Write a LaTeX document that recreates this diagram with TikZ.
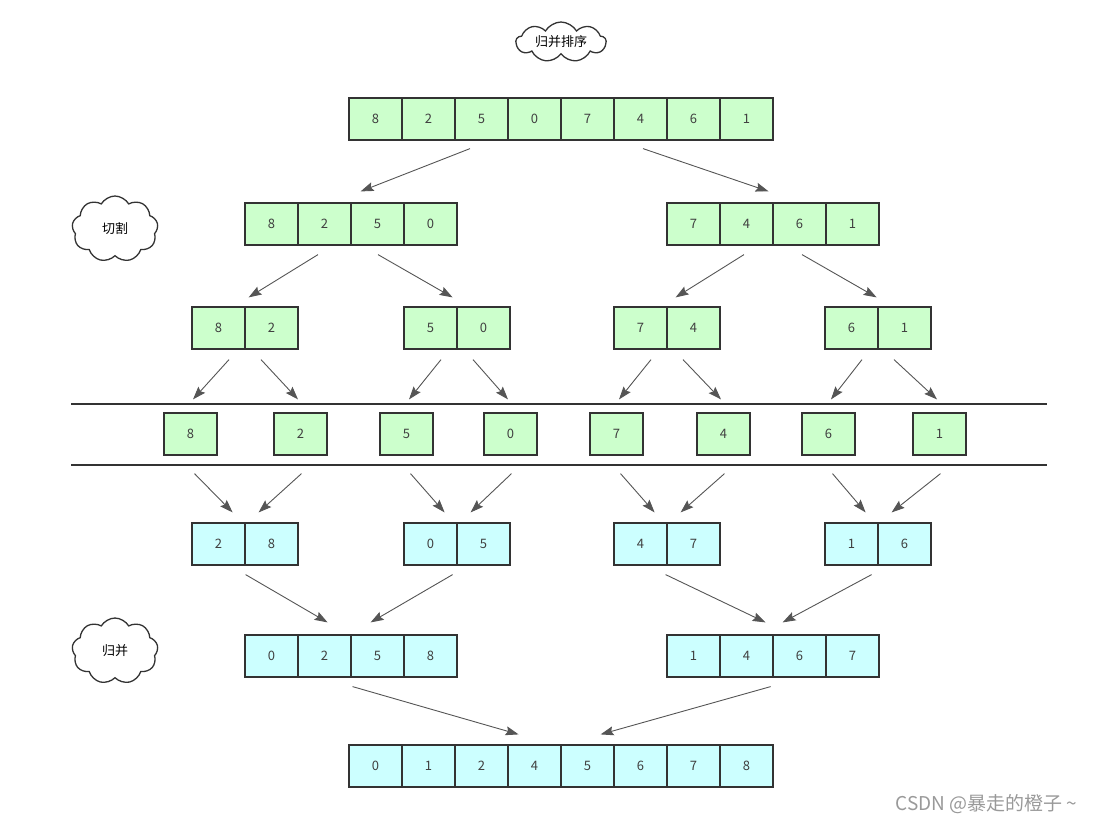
\documentclass[tikz,border=0pt]{standalone}
\usepackage{fontspec}
\setmainfont{Noto Sans CJK SC}
\usetikzlibrary{shapes.symbols,arrows.meta,calc}

\definecolor{cutgreen}{HTML}{CCFFCC}
\definecolor{mergecyan}{HTML}{CCFFFF}
\definecolor{edgegray}{HTML}{333333}
\definecolor{arrowgray}{HTML}{555555}

\begin{document}
\begin{tikzpicture}[x=1pt, y=-1pt,
		cell/.style={draw=edgegray, line width=1.2pt, minimum width=53pt, minimum height=42pt,
			inner sep=0pt, text=black!75, font=\fontsize{13}{15}\selectfont},
		cutcell/.style={cell, fill=cutgreen},
		mergecell/.style={cell, fill=mergecyan},
		arr/.style={draw=arrowgray, line width=0.9pt, -{Stealth[length=13pt, width=9pt, inset=2pt]}},
		note/.style={cloud, cloud puffs=9, cloud puff arc=120, cloud ignores aspect,
			draw=black!80, line width=1.3pt, fill=white, inner sep=0pt,
			font=\fontsize{13}{15}\selectfont}]
	
	\useasboundingbox (0,0) rectangle (1095,823);
	
	% Clouds
	\node[note, minimum width=90pt, minimum height=40pt] (title) at (561,42) {归并排序};
	\node[note, minimum width=86pt, minimum height=66pt] (cut) at (115,229) {切割};
	\node[note, minimum width=86pt, minimum height=66pt] (merge) at (115,651) {归并};
	
	% Whole array
	\foreach \v [count=\i] in {8,2,5,0,7,4,6,1}
		\node[cutcell] (t\i) at (322.5+53*\i,119) {\v};
	
	% Halves
	\foreach \v [count=\i] in {8,2,5,0}
		\node[cutcell] (a\i) at (218.5+53*\i,224) {\v};
	\foreach \v [count=\i] in {7,4,6,1}
		\node[cutcell] (b\i) at (640.5+53*\i,224) {\v};
	
	% Quarters
	\foreach \n/\x/\vals in {c/165.5/{8,2}, d/377.5/{5,0}, e/587.5/{7,4}, f/798.5/{6,1}}
		\foreach \v [count=\i] in \vals
			\node[cutcell] (\n\i) at (\x+53*\i,328) {\v};
	
	% Separator lines
	\draw[edgegray, line width=1.3pt] (71,404) -- (1047,404);
	\draw[edgegray, line width=1.3pt] (71,465) -- (1047,465);
	
	% Single elements
	\foreach \v/\x [count=\i] in {8/190.5, 2/300.5, 5/406.5, 0/510.5, 7/616.5, 4/723.5, 6/828.5, 1/939.5}
		\node[cutcell] (s\i) at (\x,434) {\v};
	
	% Merged pairs
	\foreach \n/\x/\vals in {g/165.5/{2,8}, h/377.5/{0,5}, i/587.5/{4,7}, j/798.5/{1,6}}
		\foreach \v [count=\i] in \vals
			\node[mergecell] (\n\i) at (\x+53*\i,544) {\v};
	
	% Merged halves
	\foreach \v [count=\i] in {0,2,5,8}
		\node[mergecell] (k\i) at (218.5+53*\i,656) {\v};
	\foreach \v [count=\i] in {1,4,6,7}
		\node[mergecell] (m\i) at (640.5+53*\i,656) {\v};
	
	% Sorted array
	\foreach \v [count=\i] in {0,1,2,4,5,6,7,8}
		\node[mergecell] (n\i) at (322.5+53*\i,766) {\v};
	
	% Cutting arrows
	\draw[arr] ($(t3.south)+(-11.5,8)$) -- ($(a2.north east)+(9,-11)$);
	\draw[arr] ($(t6.south)+(2.5,8)$) -- ($(b2.north east)+(-5,-11)$);
	
	\draw[arr] ($(a2.south)+(-6.5,9)$) -- ($(c1.north east)+(3,-9)$);
	\draw[arr] ($(a3.south)+(0.5,9)$) -- ($(d1.north east)+(-5,-9)$);
	\draw[arr] ($(b2.south)+(-2.5,9)$) -- ($(e1.north east)+(8,-9)$);
	\draw[arr] ($(b3.south)+(2.5,9)$) -- ($(f1.north east)+(-2,-9)$);
	
	\foreach \p/\l/\r in {c/1/2, d/3/4, e/5/6, f/7/8} {
		\draw[arr] ($(\p1.south)+(10.5,10)$) -- ($(s\l.north)+(2.5,-13)$);
		\draw[arr] ($(\p2.south)+(-10.5,10)$) -- ($(s\r.north)+(-2.5,-13)$);
	}
	
	% Merging arrows
	\foreach \p/\l/\r in {g/1/2, h/3/4, i/5/6, j/7/8} {
		\draw[arr] ($(s\l.south)+(4,18)$) -- ($(\p1.north east)+(-13,-10)$);
		\draw[arr] ($(s\r.south)+(1,18)$) -- ($(\p1.north east)+(13,-10)$);
	}
	
	\draw[arr] ($(g1.south east)+(0,9)$) -- ($(k2.north east)+(-24,-12)$);
	\draw[arr] ($(h1.south east)+(-5,9)$) -- ($(k2.north east)+(19,-12)$);
	\draw[arr] ($(i1.south east)+(-2,9)$) -- ($(m2.north east)+(-8,-12)$);
	\draw[arr] ($(j1.south east)+(-7,9)$) -- ($(m2.north east)+(9,-12)$);
	
	\draw[arr] ($(k2.south east)+(1,9)$) -- ($(n4.north east)+(-43,-10)$);
	\draw[arr] ($(m2.south east)+(-3,9)$) -- ($(n4.north east)+(39,-10)$);
	
	% Watermark
	\node[anchor=east, text=black!40, font=\fontsize{19}{21}\selectfont] (mark) at (1081,804)
		{CSDN @暴走的橙子 \textasciitilde};
	
\end{tikzpicture}
\end{document}
